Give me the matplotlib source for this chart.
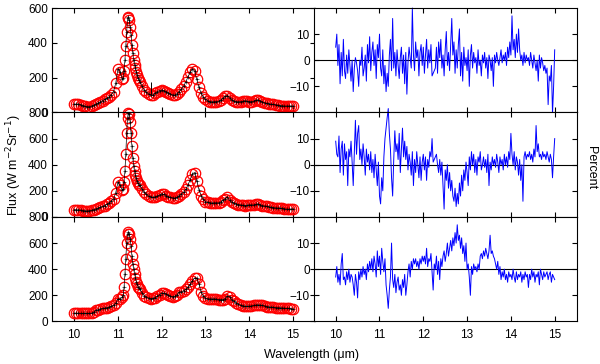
import numpy as np
import matplotlib.pyplot as plt

plt.rcParams['font.family'] = ['Liberation Sans', 'DejaVu Sans']
plt.rcParams['font.size'] = 8.5

# wavelength grids (um): flux is sampled finer around the 11.2 um peak
wl_flux = np.round(np.concatenate([np.arange(10.0, 11.06, 0.05),
                                   np.arange(11.10, 11.49, 0.02),
                                   np.arange(11.50, 15.01, 0.05)]), 2)
wl_res = np.linspace(10, 15, 201)

flux_top = [48, 48, 48, 45, 40, 36, 33, 34, 37, 42, 48, 55, 62, 68, 75, 82, 90, 103, 120, 167, 250, 235,
            190, 200, 240, 300, 380, 460, 540, 550, 530, 490, 445, 390, 340, 300, 275, 255, 235, 215, 200, 188,
            177, 152, 130, 115, 106, 102, 100, 110, 120, 126,
            128, 125, 120, 113, 106, 100, 100, 108, 120, 135,
            152, 175, 205, 230, 250, 238, 190, 145, 110, 88,
            75, 67, 62, 61, 62, 63, 65, 71, 81, 92,
            97, 85, 71, 65, 62, 61, 62, 64, 67, 65,
            62, 63, 65, 70, 72, 66, 60, 56, 52, 50,
            48, 46, 44, 42, 40, 39, 37, 37, 37, 37,
            37]
flux_mid = [56, 55, 54, 52, 49, 47, 46, 48, 51, 56, 62, 68, 74, 80, 87, 97, 108, 122, 138, 185, 265, 241,
            205, 215, 270, 350, 480, 640, 760, 795, 790, 730, 640, 540, 450, 390, 350, 318, 295, 275, 258, 248,
            241, 215, 190, 172, 159, 153, 151, 154, 159, 168,
            177, 172, 164, 156, 149, 146, 144, 150, 164, 176,
            190, 212, 245, 285, 330, 340, 275, 210, 164, 135,
            118, 112, 108, 107, 108, 108, 108, 115, 126, 140,
            152, 128, 113, 105, 100, 95, 92, 90, 87, 89,
            92, 92, 92, 96, 100, 94, 87, 84, 82, 78,
            74, 72, 69, 68, 67, 65, 62, 60, 59, 60,
            62]
flux_bot = [63, 63, 63, 62, 61, 61, 61, 62, 63, 72, 84, 90, 96, 99, 101, 105, 109, 115, 122, 140, 172, 172,
            185, 200, 260, 360, 480, 600, 670, 684, 670, 630, 580, 500, 440, 400, 365, 335, 305, 285, 265, 255,
            248, 220, 197, 185, 177, 175, 177, 182, 192, 205,
            218, 215, 210, 200, 192, 190, 192, 205, 223, 228,
            235, 245, 261, 285, 311, 332, 330, 290, 223, 195,
            177, 174, 172, 172, 172, 170, 167, 167, 167, 175,
            192, 190, 167, 155, 142, 130, 122, 118, 116, 116,
            116, 118, 122, 125, 127, 124, 122, 118, 114, 111,
            109, 108, 106, 105, 104, 103, 101, 100, 99, 98,
            96]

# glitch in the top model curve
glitch_wl, glitch_lo, glitch_hi = 11.75, 100, 177

# residuals in percent
res_top = [5, 10, -2, 6, -9, 3, -6, 8, -4, -7, 2, -5, 4, -2, -8, 0,
           -12, -3, 1, -1, -4, -10, 0, -2, 5, -6, -3, 2, -8, 6, -1, 9,
           -4, 3, 7, -2, 4, -7, 6, 1, 10, -3, -6, 4, -9, -2, -12, -5,
           -10, 2, 8, -4, 16, -3, 3, -6, 4, -2, -7, 1, 5, -5, 2, -9,
           3, -13, -1, 5, 1, -3, 20, 2, -4, 7, 1, 4, -6, 3, 6, -2,
           5, -5, 2, 8, -3, 4, -1, 6, -6, -5, -4, -3, 5, -5, 7, 1,
           8, -3, 2, -6, 4, 11, -2, 3, -4, 6, 16, 2, 7, -5, 4, -3,
           6, 12, -6, 3, -8, 5, -2, 1, -4, 4, -10, 2, 6, -3, 3, -1,
           1, -5, 4, -2, 0, -6, 2, -1, 3, -3, 1, -7, 2, 0, -4, 1,
           -10, 2, -1, 3, 0, -2, 1, 4, -1, 2, 0, 3, -2, 5, 1, 7,
           2, 17, 4, 8, 1, 10, 3, 12, 4, 0, 2, -2, 3, -1, 2, 0,
           1, -2, 3, 0, -3, 2, -1, -4, 0, -8, 2, -3, 1, -1, -4, -2,
           -5, -3, -17, -6, -8, -2, -20.5, -10, 4]
res_mid = [9, 4, 3, 11, -3, 6, 9, -4, 8, 2, 5, -8, 6, 3, 9, 1,
           -8, 5, 17, 4, 12, 15, 2, 6, 0, 8, 3, -4, 6, 1, 4, -2,
           5, -3, 2, -5, 4, -2, -8, 1, -12, -15, -5, -10, 3, 10, 14, 18,
           21.5, 12, 6, -5, -12, 2, 13, 5, 8, 2, 12, -3, 6, 14, 3, 9,
           2, 7, -2, 4, 1, -4, 5, -8, 2, -3, 5, 0, -5, 3, -6, 1,
           4, -2, 3, -6, 2, -1, 5, 3, 10, 1, 2, 3, 4, 0, -3, 2,
           -4, 1, -8, -17, -2, -6, 0, -9, -3, -10, -6, -12, -14, -9, -16, -11,
           -15, -7, -12, -4, -10, -2, -6, 1, -3, -8, 3, -2, 5, 0, 4, -3,
           2, -4, 3, 1, 5, -2, 0, 3, -1, 2, -3, 4, -8, 1, -2, 3,
           0, 2, -1, 4, 1, -3, 3, 0, 2, -2, 4, 0, 3, -1, 5, 2,
           12, 4, 0, 5, -2, 3, 1, -4, 2, -6, 0, -14, 3, 5, 2, 4,
           3, 5, 2, 4, 1, 6, 3, 15, 5, 8, 3, 4, 2, 5, 3, 4,
           2, 5, 3, 1, 4, 2, -5, 3, 10]
res_bot = [-3, 1, -5, -2, -6, 2, 6, -4, -3, -6, -1, -4, 0, -5, -2, -3,
           -6, -10, -2, -5, -11, -1, -4, 0, -3, 1, -2, 0, -4, 2, -1, 3,
           0, 4, -1, 5, 2, -3, 7, 1, 5, -2, 8, 3, -1, 4, -6, -10,
           -15, -8, -3, 10, -4, -7, -2, -9, -5, -3, -8, -6, -10, -4, -7, -2,
           -10, -6, -1, 2, -3, 3, 0, 4, 2, 4, 1, 3, 0, 4, 2, 5,
           3, 5, 2, 8, 1, 4, 3, 6, -1, -8, 2, 0, 5, -2, 3, -4,
           4, 1, 5, 7, 3, 6, 10, 5, 8, 11, 7, 12, 9, 14, 10, 17,
           11, 13, 8, 12, 6, 9, 3, 10, 0, 2, -3, -10, 1, -2, 2, 0,
           1, -1, 2, 0, 5, 6, 4, 7, 5, 8, 6, 4, 7, 13, 6, 7,
           5, 4, 2, 0, 3, -2, 1, -4, -1, -3, 0, -4, -2, -5, -1, -3,
           -2, -4, 0, -3, -5, -1, -4, -2, -3, -1, -5, -2, -4, -1, -3, -2,
           -7, -2, -4, 0, -3, -1, -5, -2, -3, -1, -6, 0, -2, -4, -1, -3,
           -2, -1, -4, -2, -1, -5, -2, -3, -4]

fluxes = [flux_top, flux_mid, flux_bot]
residuals = [res_top, res_mid, res_bot]
flux_tops = [600, 800, 800]

fig = plt.figure(figsize=(6, 3.64), dpi=100)
bottoms = [0.691, 0.404, 0.117]
h = 0.287

for i in range(3):
    axl = fig.add_axes([0.087, bottoms[i], 0.438, h])
    axl.plot(wl_flux, fluxes[i], 'o', mfc='none', mec='red', ms=7.5, mew=0.9, clip_on=False)
    axl.plot(wl_flux, fluxes[i], '-+', color='k', lw=0.5, ms=2.5, mew=0.4)
    if i == 0:
        axl.vlines(glitch_wl, glitch_lo, glitch_hi, color='k', lw=0.7)
    axl.set_xlim(9.5, 15.5)
    axl.set_ylim(0, flux_tops[i])
    axl.set_yticks(np.arange(0, flux_tops[i] + 1, 200))
    axl.set_xticks(range(10, 16))
    axl.tick_params(direction='in', top=True, right=True, length=3.5, width=0.8, pad=3)
    axl.tick_params(axis='x', pad=5.5)
    if i < 2:
        axl.set_xticklabels([])

    axr = fig.add_axes([0.523, bottoms[i], 0.438, h])
    axr.axhline(0, color='k', lw=0.8)
    axr.plot(wl_res, residuals[i], color='b', lw=0.7, clip_on=False)
    axr.set_xlim(9.5, 15.5)
    axr.set_ylim(-20, 20)
    axr.set_yticks([-10, 0, 10])
    axr.set_xticks(range(10, 16))
    axr.tick_params(direction='in', top=True, right=True, length=3.5, width=0.8, pad=3)
    axr.tick_params(axis='x', pad=5.5)
    if i < 2:
        axr.set_xticklabels([])
    for ax in (axl, axr):
        for s in ax.spines.values():
            s.set_linewidth(0.8)

fig.text(0.024, 0.547, 'Flux (W m$^{-2}$Sr$^{-1}$)', rotation=90, ha='center', va='center', fontsize=9)
fig.text(0.52, 0.025, 'Wavelength (\u03bcm)', ha='center', va='center', fontsize=9)
fig.text(0.985, 0.54, 'Percent', rotation=270, ha='center', va='center', fontsize=9)

plt.savefig('out.png', dpi=100)
